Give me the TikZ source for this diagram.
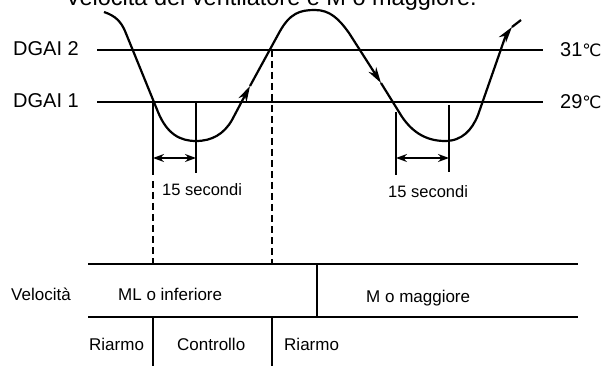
\documentclass[tikz,border=0pt]{standalone}
\usepackage{fontspec}
\setmainfont{Liberation Sans}
\newfontfamily\djv{DejaVu Sans}
\usetikzlibrary{arrows.meta}
\begin{document}
\begin{tikzpicture}[x=1pt,y=-1pt,
  hline/.style={line width=1.7pt},
  curve/.style={line width=2.2pt, line join=round},
  vline/.style={line width=1.3pt},
  divline/.style={line width=1.8pt},
  dline/.style={line width=1.3pt, dash pattern=on 7pt off 4pt},
  flowarr/.style={-{Stealth[length=16pt,width=9pt,inset=5pt]}},
  dimarr/.style={{Stealth[length=11pt,width=8pt]}-{Stealth[length=11pt,width=8pt]}},
  big/.style={inner sep=0pt, anchor=base west, font=\fontsize{20}{24}\selectfont},
  ttl/.style={inner sep=0pt, anchor=base, font=\fontsize{23.5}{28}\selectfont},
  small/.style={inner sep=0pt, anchor=base west, font=\fontsize{17}{20}\selectfont}]
\useasboundingbox (0,0) rectangle (602,366);

% texts
\node[ttl] (title) at (271,6) {Velocità del ventilatore e M o maggiore.};
\node[big] (dgai2) at (13,56) {DGAI 2};
\node[big] (dgai1) at (13,108) {DGAI 1};
\node[big] (t31) at (560,57) {31{\djv\fontsize{17}{20}\selectfont ℃}};
\node[big] (t29) at (560,109) {29{\djv\fontsize{17}{20}\selectfont ℃}};
\node[small, font=\fontsize{16.5}{20}\selectfont] (sec1) at (162,196) {15 secondi};
\node[small, font=\fontsize{16.5}{20}\selectfont] (sec2) at (388,197) {15 secondi};
\node[small] (vel) at (11,300) {Velocità};
\node[small] (ml) at (118,300) {ML o inferiore};
\node[small] (mm) at (366,302) {M o maggiore};
\node[small] (r1) at (89,350) {Riarmo};
\node[small] (ctrl) at (177,350) {Controllo};
\node[small] (r2) at (284,350) {Riarmo};

% threshold lines
\coordinate (l2a) at (97,50);  \coordinate (l2b) at (543,50);
\coordinate (l1a) at (97,102); \coordinate (l1b) at (543,102);
\draw[hline] (l2a) -- (l2b);
\draw[hline] (l1a) -- (l1b);

% temperature curve
\draw[curve, flowarr] (104,12) .. controls (116,16) and (121,22) .. (125,31)
  -- (158,112) .. controls (167,134) and (180,141) .. (196,141)
  .. controls (212,141) and (224,134) .. (232,120) -- (250,86);
\draw[curve, flowarr] (250,86) -- (279.5,32) .. controls (290,13) and (300,10) .. (315,10)
  .. controls (330,10) and (339,19) .. (349,33) -- (381,83);
\draw[curve, flowarr] (381,83) -- (399,112) .. controls (410,131) and (425,141) .. (445,141)
  .. controls (462,141) and (472,130) .. (478,115) -- (500,52)
  .. controls (503,43) and (506,35) .. (512,27);
\draw[curve] (512,27) -- (521,20);

% 15 s markers (first)
\coordinate (a1) at (153,102); \coordinate (a2) at (153,175);
\coordinate (b1) at (196,102); \coordinate (b2) at (196,173);
\draw[vline] (a1) -- (a2);
\draw[vline] (b1) -- (b2);
\draw[vline, dimarr] (153,158) -- (196,158);
% 15 s markers (second)
\coordinate (c1) at (396,112); \coordinate (c2) at (396,175);
\coordinate (d1) at (449,105); \coordinate (d2) at (449,172);
\draw[vline] (c1) -- (c2);
\draw[vline] (d1) -- (d2);
\draw[vline, dimarr] (396,158) -- (449,158);

% dashed projections
\coordinate (e1) at (153,181); \coordinate (e2) at (153,264);
\coordinate (f1) at (272,50);  \coordinate (f2) at (272,264);
\draw[dline] (e1) -- (e2);
\draw[dline] (f1) -- (f2);

% speed table
\coordinate (g1) at (88,264);  \coordinate (g2) at (578,264);
\coordinate (h1) at (88,317);  \coordinate (h2) at (578,317);
\draw[hline] (g1) -- (g2);
\draw[hline] (h1) -- (h2);
\draw[divline] (317,264) -- (317,317);
\draw[divline] (153,317) -- (153,366);
\draw[divline] (272,317) -- (272,366);
\end{tikzpicture}
\end{document}
